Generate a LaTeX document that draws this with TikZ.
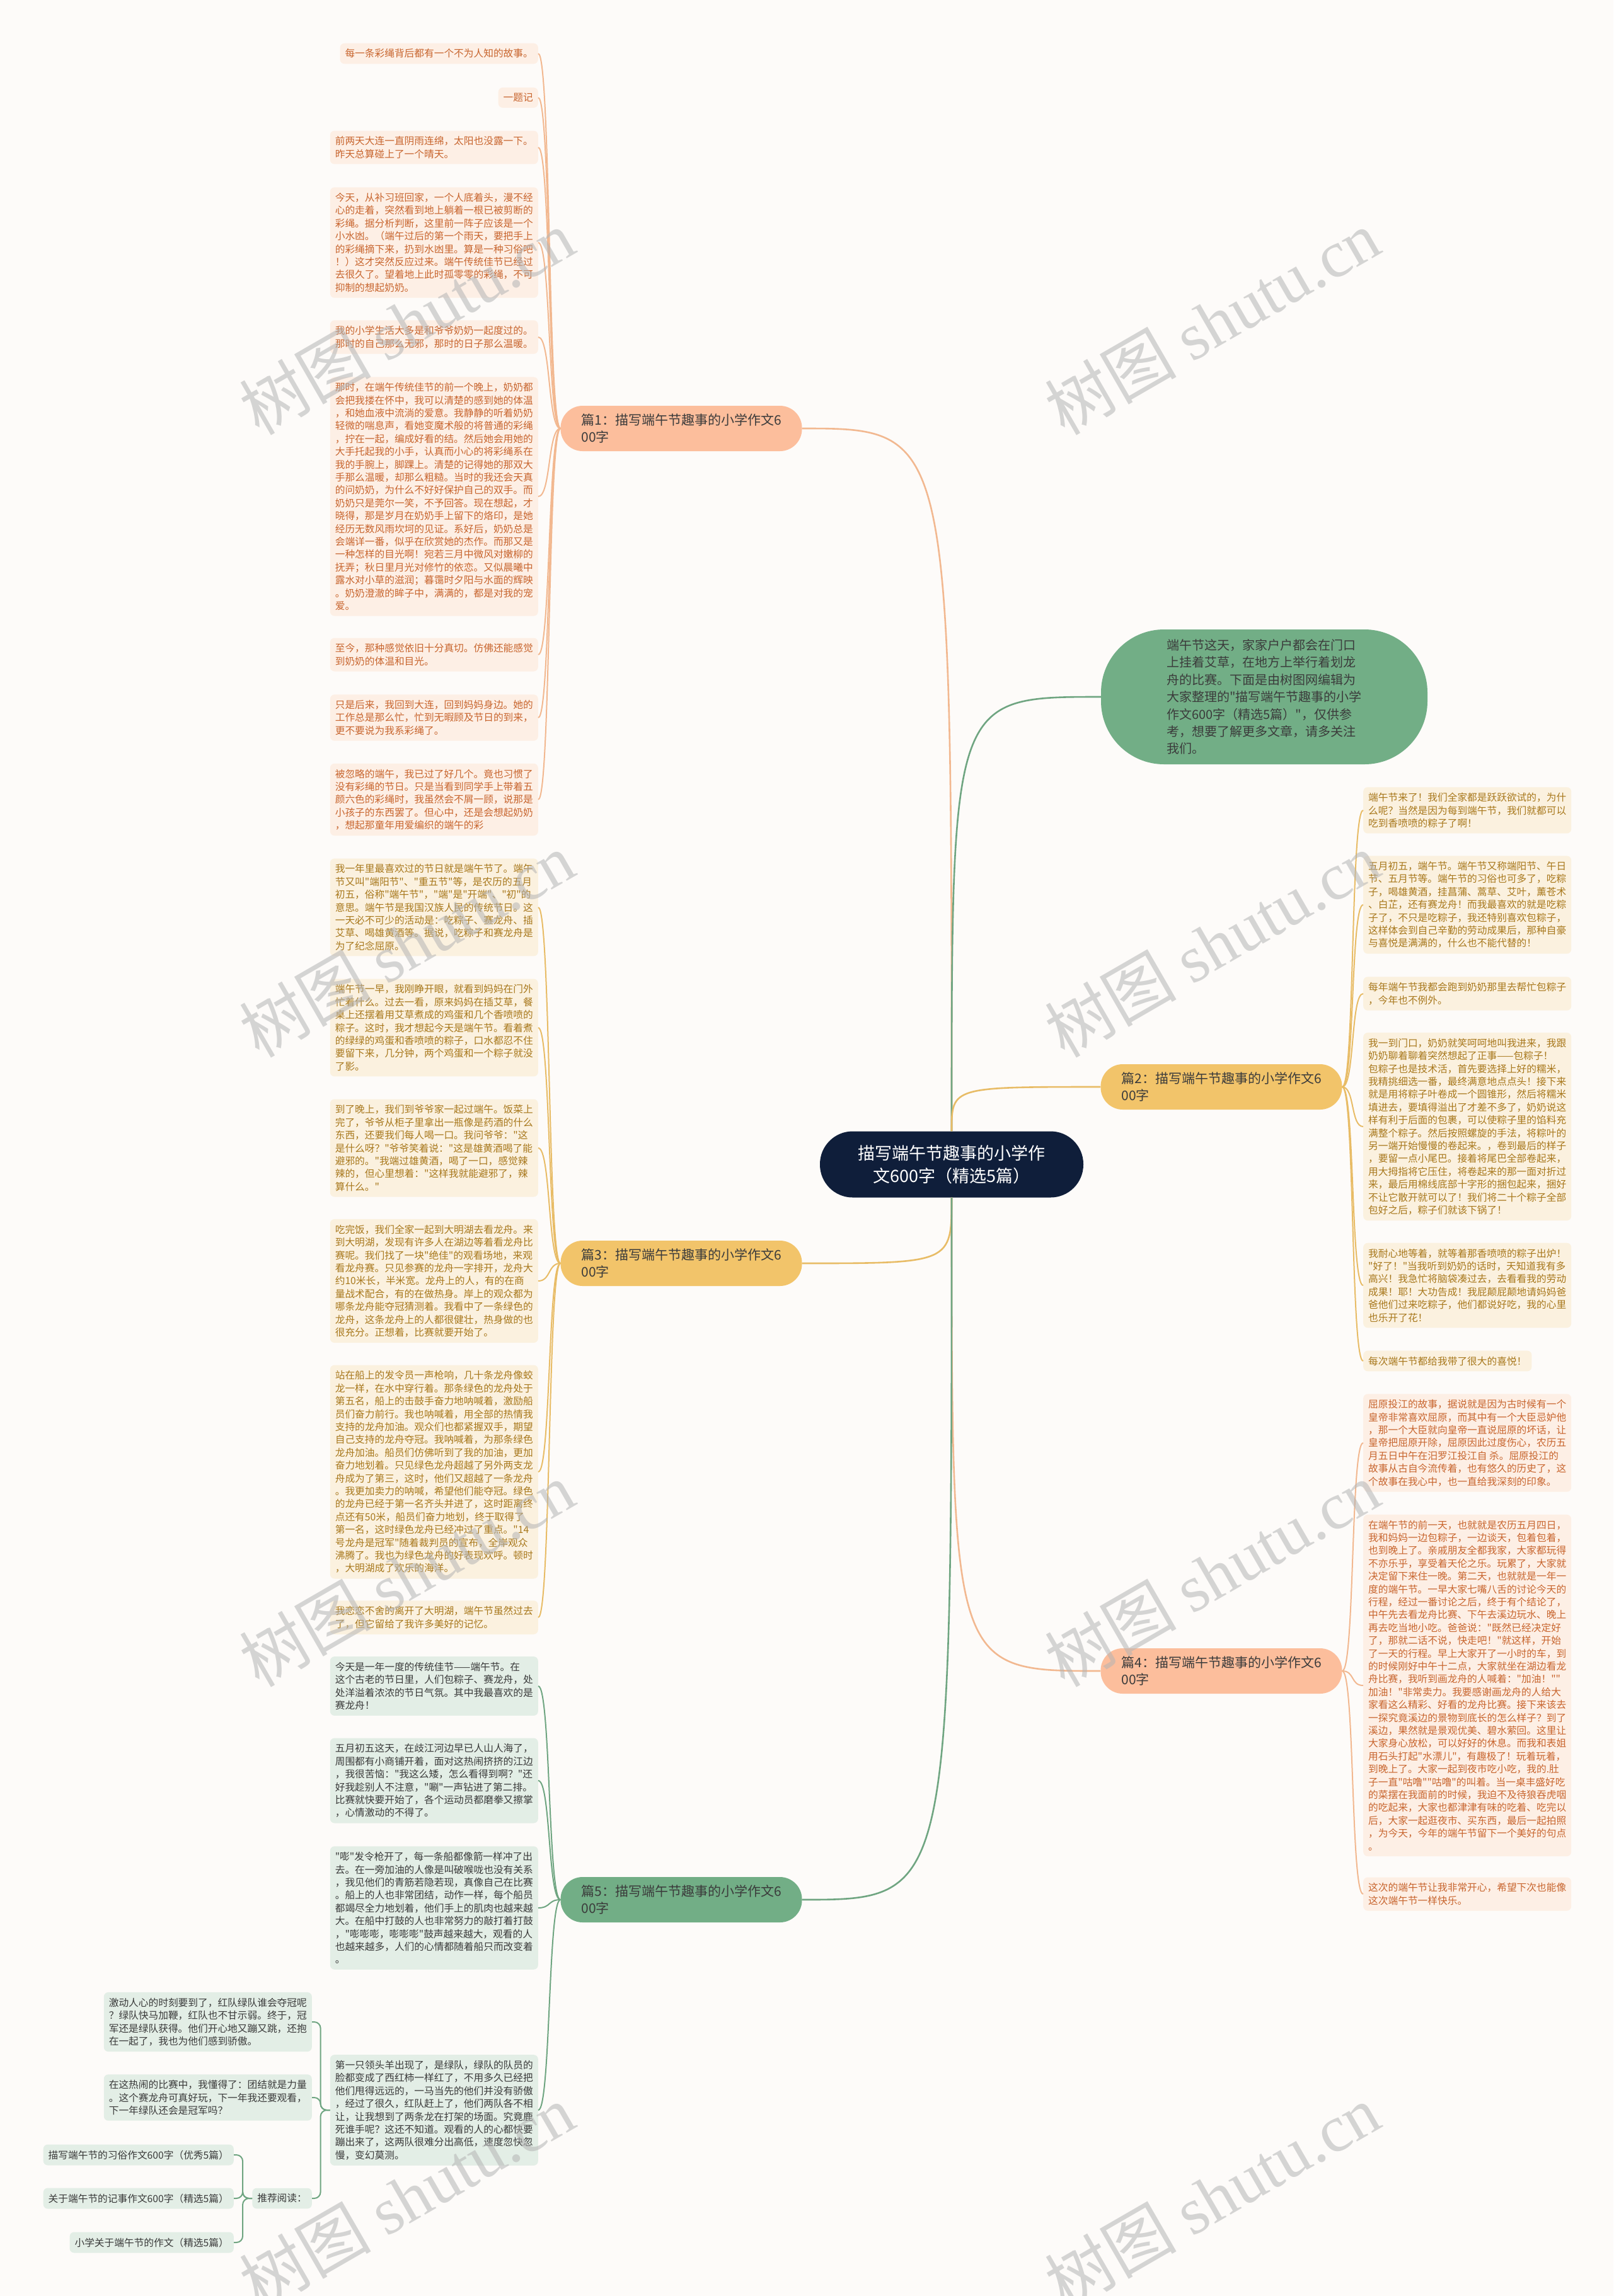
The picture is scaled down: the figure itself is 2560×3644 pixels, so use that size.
\documentclass[tikz,border=0pt]{standalone}
\usepackage{fontspec}
\setmainfont{Noto Sans CJK SC}[Ligatures=TeXOff]
\newfontfamily\wmserif{Liberation Serif}

\definecolor{cBg}{HTML}{FDFBF9}
\definecolor{cHub}{HTML}{0F1E3A}
\definecolor{cPeach}{HTML}{FCBE9C}
\definecolor{cPeachLine}{HTML}{F2B890}
\definecolor{cPeachFill}{HTML}{FDEFE5}
\definecolor{cPeachText}{HTML}{C8652E}
\definecolor{cGold}{HTML}{F2C46A}
\definecolor{cGoldLine}{HTML}{E8BC66}
\definecolor{cGoldFill}{HTML}{FBF1DF}
\definecolor{cGoldText}{HTML}{A8781C}
\definecolor{cGreen}{HTML}{72AE86}
\definecolor{cGreenLine}{HTML}{6FA581}
\definecolor{cGreenFill}{HTML}{E3EEE6}
\definecolor{cGreenText}{HTML}{3A3A3A}
\definecolor{cTagText}{HTML}{3B3B3B}
\definecolor{cMark}{HTML}{B4B4B4}

\newcommand{\leaffont}{\fontsize{15.7}{20.4}\selectfont}
\newcommand{\tagfont}{\fontsize{21}{27}\selectfont}

\begin{document}
\begin{tikzpicture}[x=1pt, y=-1pt,
	leaf/.style={rounded corners=7pt, inner xsep=8pt, inner ysep=9pt, align=left, font=\leaffont},
	peachbox/.style={leaf, fill=cPeachFill, text=cPeachText},
	goldbox/.style={leaf, fill=cGoldFill, text=cGoldText},
	greenbox/.style={leaf, fill=cGreenFill, text=cGreenText},
	tag/.style={rounded corners=35pt, minimum width=383pt, minimum height=72pt, inner sep=0pt, align=left, font=\tagfont, text=cTagText},
	peachline/.style={draw=cPeachLine, line width=2pt},
	goldline/.style={draw=cGoldLine, line width=2pt},
	greenline/.style={draw=cGreenLine, line width=2pt},
	elbow/.style={greenline, rounded corners=10pt},
	wmark/.style={rotate=30, text=cMark, opacity=0.55, font=\fontsize{105}{110}\selectfont}]
	\fill[cBg] (0,0) rectangle (2560,3644);
	\useasboundingbox (0,0) rectangle (2560,3644);

	\node[fill=cHub, text=white, rounded corners=52pt, minimum width=418pt, minimum height=105pt, align=center, font=\fontsize{27}{36}\selectfont] (hub) at (1510,1848) {描写端午节趣事的小学作\\文600字（精选5篇）};
	\node[fill=cGreen, text=cTagText, rounded corners=100pt, minimum width=518pt, minimum height=214pt, align=left, font=\fontsize{20}{27.4}\selectfont] (intro) at (2006,1106) {端午节这天，家家户户都会在门口\\上挂着艾草，在地方上举行着划龙\\舟的比赛。下面是由树图网编辑为\\大家整理的"描写端午节趣事的小学\\作文600字（精选5篇）"，仅供参\\考，想要了解更多文章，请多关注\\我们。};
	\node[tag, fill=cPeach] (t1) at (1081,680) {篇1：描写端午节趣事的小学作文6\\00字};
	\node[tag, fill=cGold] (t2) at (1938,1725) {篇2：描写端午节趣事的小学作文6\\00字};
	\node[tag, fill=cGold] (t3) at (1081,2005) {篇3：描写端午节趣事的小学作文6\\00字};
	\node[tag, fill=cPeach] (t4) at (1938,2652) {篇4：描写端午节趣事的小学作文6\\00字};
	\node[tag, fill=cGreen] (t5) at (1081,3015) {篇5：描写端午节趣事的小学作文6\\00字};

	\node[peachbox, anchor=east] (b11) at (854,85) {每一条彩绳背后都有一个不为人知的故事。};
	\node[peachbox, anchor=east] (b12) at (854,155) {一题记};
	\node[peachbox, anchor=east] (b13) at (854,234) {前两天大连一直阴雨连绵，太阳也没露一下。\\昨天总算碰上了一个晴天。};
	\node[peachbox, anchor=east] (b14) at (854,385) {今天，从补习班回家，一个人底着头，漫不经\\心的走着，突然看到地上躺着一根已被剪断的\\彩绳。据分析判断，这里前一阵子应该是一个\\小水凼。（端午过后的第一个雨天，要把手上\\的彩绳摘下来，扔到水凼里。算是一种习俗吧\\！）这才突然反应过来。端午传统佳节已经过\\去很久了。望着地上此时孤零零的彩绳，不可\\抑制的想起奶奶。};
	\node[peachbox, anchor=east] (b15) at (854,535) {我的小学生活大多是和爷爷奶奶一起度过的。\\那时的自己那么无邪，那时的日子那么温暖。};
	\node[peachbox, anchor=east] (b16) at (854,788) {那时，在端午传统佳节的前一个晚上，奶奶都\\会把我搂在怀中，我可以清楚的感到她的体温\\，和她血液中流淌的爱意。我静静的听着奶奶\\轻微的喘息声，看她变魔术般的将普通的彩绳\\，拧在一起，编成好看的结。然后她会用她的\\大手托起我的小手，认真而小心的将彩绳系在\\我的手腕上，脚踝上。清楚的记得她的那双大\\手那么温暖，却那么粗糙。当时的我还会天真\\的问奶奶，为什么不好好保护自己的双手。而\\奶奶只是莞尔一笑，不予回答。现在想起，才\\晓得，那是岁月在奶奶手上留下的烙印，是她\\经历无数风雨坎坷的见证。系好后，奶奶总是\\会端详一番，似乎在欣赏她的杰作。而那又是\\一种怎样的目光啊！宛若三月中微风对嫩柳的\\抚弄；秋日里月光对修竹的依恋。又似晨曦中\\露水对小草的滋润；暮霭时夕阳与水面的辉映\\。奶奶澄澈的眸子中，满满的，都是对我的宠\\爱。};
	\node[peachbox, anchor=east] (b17) at (854,1039) {至今，那种感觉依旧十分真切。仿佛还能感觉\\到奶奶的体温和目光。};
	\node[peachbox, anchor=east] (b18) at (854,1139) {只是后来，我回到大连，回到妈妈身边。她的\\工作总是那么忙，忙到无暇顾及节日的到来，\\更不要说为我系彩绳了。};
	\node[peachbox, anchor=east] (b19) at (854,1269) {被忽略的端午，我已过了好几个。竟也习惯了\\没有彩绳的节日。只是当看到同学手上带着五\\颜六色的彩绳时，我虽然会不屑一顾，说那是\\小孩子的东西罢了。但心中，还是会想起奶奶\\，想起那童年用爱编织的端午的彩};

	\node[goldbox, anchor=east] (b31) at (854,1440) {我一年里最喜欢过的节日就是端午节了。端午\\节又叫"端阳节"、"重五节"等，是农历的五月\\初五，俗称"端午节"，"端"是"开端"、"初"的\\意思。端午节是我国汉族人民的传统节日。这\\一天必不可少的活动是：吃粽子、赛龙舟、插\\艾草、喝雄黄酒等。据说，吃粽子和赛龙舟是\\为了纪念屈原。};
	\node[goldbox, anchor=east] (b32) at (854,1631) {端午节一早，我刚睁开眼，就看到妈妈在门外\\忙着什么。过去一看，原来妈妈在插艾草，餐\\桌上还摆着用艾草煮成的鸡蛋和几个香喷喷的\\粽子。这时，我才想起今天是端午节。看着煮\\的绿绿的鸡蛋和香喷喷的粽子，口水都忍不住\\要留下来，几分钟，两个鸡蛋和一个粽子就没\\了影。};
	\node[goldbox, anchor=east] (b33) at (854,1822) {到了晚上，我们到爷爷家一起过端午。饭菜上\\完了，爷爷从柜子里拿出一瓶像是药酒的什么\\东西，还要我们每人喝一口。我问爷爷："这\\是什么呀？"爷爷笑着说："这是雄黄酒喝了能\\避邪的。"我端过雄黄酒，喝了一口，感觉辣\\辣的，但心里想着："这样我就能避邪了，辣\\算什么。"};
	\node[goldbox, anchor=east] (b34) at (854,2033) {吃完饭，我们全家一起到大明湖去看龙舟。来\\到大明湖，发现有许多人在湖边等着看龙舟比\\赛呢。我们找了一块"绝佳"的观看场地，来观\\看龙舟赛。只见参赛的龙舟一字排开，龙舟大\\约10米长，半米宽。龙舟上的人，有的在商\\量战术配合，有的在做热身。岸上的观众都为\\哪条龙舟能夺冠猜测着。我看中了一条绿色的\\龙舟，这条龙舟上的人都很健壮，热身做的也\\很充分。正想着，比赛就要开始了。};
	\node[goldbox, anchor=east] (b35) at (854,2336) {站在船上的发令员一声枪响，几十条龙舟像蛟\\龙一样，在水中穿行着。那条绿色的龙舟处于\\第五名，船上的击鼓手奋力地呐喊着，激励船\\员们奋力前行。我也呐喊着，用全部的热情我\\支持的龙舟加油。观众们也都紧握双手，期望\\自己支持的龙舟夺冠。我呐喊着，为那条绿色\\龙舟加油。船员们仿佛听到了我的加油，更加\\奋力地划着。只见绿色龙舟超越了另外两支龙\\舟成为了第三，这时，他们又超越了一条龙舟\\。我更加卖力的呐喊，希望他们能夺冠。绿色\\的龙舟已经于第一名齐头并进了，这时距离终\\点还有50米，船员们奋力地划，终于取得了\\第一名，这时绿色龙舟已经冲过了重点。"14\\号龙舟是冠军"随着裁判员的宣布，全岸观众\\沸腾了。我也为绿色龙舟的好表现欢呼。顿时\\，大明湖成了欢乐的海洋。};
	\node[goldbox, anchor=east] (b36) at (854,2567) {我恋恋不舍的离开了大明湖，端午节虽然过去\\了，但它留给了我许多美好的记忆。};

	\node[greenbox, anchor=east] (b51) at (854,2676) {今天是一年一度的传统佳节——端午节。在\\这个古老的节日里，人们包粽子、赛龙舟，处\\处洋溢着浓浓的节日气氛。其中我最喜欢的是\\赛龙舟！};
	\node[greenbox, anchor=east] (b52) at (854,2826) {五月初五这天，在歧江河边早已人山人海了，\\周围都有小商铺开着，面对这热闹挤挤的江边\\，我很苦恼："我这么矮，怎么看得到啊？"还\\好我趁别人不注意，"唰"一声钻进了第二排。\\比赛就快要开始了，各个运动员都磨拳又擦掌\\，心情激动的不得了。};
	\node[greenbox, anchor=east] (b53) at (854,3028) {"嘭"发令枪开了，每一条船都像箭一样冲了出\\去。在一旁加油的人像是叫破喉咙也没有关系\\，我见他们的青筋若隐若现，真像自己在比赛\\。船上的人也非常团结，动作一样，每个船员\\都竭尽全力地划着，他们手上的肌肉也越来越\\大。在船中打鼓的人也非常努力的敲打着打鼓\\，"嘭嘭嘭，嘭嘭嘭"鼓声越来越大，观看的人\\也越来越多，人们的心情都随着船只而改变着\\。};
	\node[greenbox, anchor=east] (b54) at (854,3349) {第一只领头羊出现了，是绿队，绿队的队员的\\脸都变成了西红柿一样红了，不用多久已经把\\他们甩得远远的，一马当先的他们并没有骄傲\\，经过了很久，红队赶上了，他们两队各不相\\让，让我想到了两条龙在打架的场面。究竟鹿\\死谁手呢？这还不知道。观看的人的心都快要\\蹦出来了，这两队很难分出高低，速度忽快忽\\慢，变幻莫测。};
	\node[greenbox, anchor=east] (c1) at (495,3209) {激动人心的时刻要到了，红队绿队谁会夺冠呢\\？绿队快马加鞭，红队也不甘示弱。终于，冠\\军还是绿队获得。他们开心地又蹦又跳，还抱\\在一起了，我也为他们感到骄傲。};
	\node[greenbox, anchor=east] (c2) at (495,3329) {在这热闹的比赛中，我懂得了：团结就是力量\\。这个赛龙舟可真好玩，下一年我还要观看，\\下一年绿队还会是冠军吗？};
	\node[greenbox, anchor=east] (rec) at (495,3489) {推荐阅读：};
	\node[greenbox, anchor=east] (r1) at (371,3420) {描写端午节的习俗作文600字（优秀5篇）};
	\node[greenbox, anchor=east] (r2) at (371,3489) {关于端午节的记事作文600字（精选5篇）};
	\node[greenbox, anchor=east] (r3) at (371,3559) {小学关于端午节的作文（精选5篇）};

	\node[goldbox, anchor=west] (b21) at (2163,1286) {端午节来了！我们全家都是跃跃欲试的，为什\\么呢？当然是因为每到端午节，我们就都可以\\吃到香喷喷的粽子了啊！};
	\node[goldbox, anchor=west] (b22) at (2163,1436) {五月初五，端午节。端午节又称端阳节、午日\\节、五月节等。端午节的习俗也可多了，吃粽\\子，喝雄黄酒，挂菖蒲、蒿草、艾叶，薰苍术\\、白芷，还有赛龙舟！而我最喜欢的就是吃粽\\子了，不只是吃粽子，我还特别喜欢包粽子，\\这样体会到自己辛勤的劳动成果后，那种自豪\\与喜悦是满满的，什么也不能代替的！};
	\node[goldbox, anchor=west] (b23) at (2163,1577) {每年端午节我都会跑到奶奶那里去帮忙包粽子\\，今年也不例外。};
	\node[goldbox, anchor=west] (b24) at (2163,1788) {我一到门口，奶奶就笑呵呵地叫我进来，我跟\\奶奶聊着聊着突然想起了正事——包粽子！\\包粽子也是技术活，首先要选择上好的糯米，\\我精挑细选一番，最终满意地点点头！接下来\\就是用将粽子叶卷成一个圆锥形，然后将糯米\\填进去，要填得溢出了才差不多了，奶奶说这\\样有利于后面的包裹，可以使粽子里的馅料充\\满整个粽子。然后按照螺旋的手法，将粽叶的\\另一端开始慢慢的卷起来。，卷到最后的样子\\，要留一点小尾巴。接着将尾巴全部卷起来，\\用大拇指将它压住，将卷起来的那一面对折过\\来，最后用棉线底部十字形的捆包起来，捆好\\不让它散开就可以了！我们将二十个粽子全部\\包好之后，粽子们就该下锅了！};
	\node[goldbox, anchor=west] (b25) at (2163,2040) {我耐心地等着，就等着那香喷喷的粽子出炉！\\"好了！"当我听到奶奶的话时，天知道我有多\\高兴！我急忙将脑袋凑过去，去看看我的劳动\\成果！耶！大功告成！我屁颠屁颠地请妈妈爸\\爸他们过来吃粽子，他们都说好吃，我的心里\\也乐开了花！};
	\node[goldbox, anchor=west] (b26) at (2163,2160) {每次端午节都给我带了很大的喜悦！};

	\node[peachbox, anchor=west] (b41) at (2163,2290) {屈原投江的故事，据说就是因为古时候有一个\\皇帝非常喜欢屈原，而其中有一个大臣忌妒他\\，那一个大臣就向皇帝一直说屈原的坏话，让\\皇帝把屈原开除，屈原因此过度伤心，农历五\\月五日中午在汨罗江投江自 杀。屈原投江的\\故事从古自今流传着，也有悠久的历史了，这\\个故事在我心中，也一直给我深刻的印象。};
	\node[peachbox, anchor=west] (b42) at (2163,2675) {在端午节的前一天，也就就是农历五月四日，\\我和妈妈一边包粽子，一边谈天，包着包着，\\也到晚上了。亲戚朋友全都我家，大家都玩得\\不亦乐乎，享受着天伦之乐。玩累了，大家就\\决定留下来住一晚。第二天，也就就是一年一\\度的端午节。一早大家七嘴八舌的讨论今天的\\行程，经过一番讨论之后，终于有个结论了，\\中午先去看龙舟比赛、下午去溪边玩水、晚上\\再去吃当地小吃。爸爸说："既然已经决定好\\了，那就二话不说，快走吧！"就这样，开始\\了一天的行程。早上大家开了一小时的车，到\\的时候刚好中午十二点，大家就坐在湖边看龙\\舟比赛，我听到画龙舟的人喊着："加油！""\\加油！"非常卖力。我要感谢画龙舟的人给大\\家看这么精彩、好看的龙舟比赛。接下来该去\\一探究竟溪边的景物到底长的怎么样子？到了\\溪边，果然就是景观优美、碧水萦回。这里让\\大家身心放松，可以好好的休息。而我和表姐\\用石头打起"水漂儿"，有趣极了！玩着玩着，\\到晚上了。大家一起到夜市吃小吃，我的.肚\\子一直"咕噜""咕噜"的叫着。当一桌丰盛好吃\\的菜摆在我面前的时候，我迫不及待狼吞虎咽\\的吃起来，大家也都津津有味的吃着、吃完以\\后，大家一起逛夜市、买东西，最后一起拍照\\，为今天，今年的端午节留下一个美好的句点\\。};
	\node[peachbox, anchor=west] (b43) at (2163,3006) {这次的端午节让我非常开心，希望下次也能像\\这次端午节一样快乐。};

	\draw[peachline, line width=2.6pt] (hub.north) .. controls (hub.north |- t1.east) .. (t1.east);
	\draw[greenline, line width=2.6pt] (hub.north) .. controls (hub.north |- intro.west) .. (intro.west);
	\draw[goldline, line width=2.6pt] (hub.north) .. controls (hub.north |- t2.west) .. (t2.west);
	\draw[goldline, line width=2.6pt] (hub.south) .. controls (hub.south |- t3.east) .. (t3.east);
	\draw[peachline, line width=2.6pt] (hub.south) .. controls (hub.south |- t4.west) .. (t4.west);
	\draw[greenline, line width=2.6pt] (hub.south) .. controls (hub.south |- t5.east) .. (t5.east);

	\foreach \b in {b11,b12,b13,b14,b15,b16,b17,b18,b19}
		\draw[peachline] (t1.west) .. controls +(-20,0) and +(20,0) .. (\b.east);
	\foreach \b in {b31,b32,b33,b34,b35,b36}
		\draw[goldline] (t3.west) .. controls +(-20,0) and +(20,0) .. (\b.east);
	\foreach \b in {b51,b52,b53,b54}
		\draw[greenline] (t5.west) .. controls +(-20,0) and +(20,0) .. (\b.east);
	\foreach \b in {b21,b22,b23,b24,b25,b26}
		\draw[goldline] (t2.east) .. controls +(20,0) and +(-20,0) .. (\b.west);
	\foreach \b in {b41,b42,b43}
		\draw[peachline] (t4.east) .. controls +(20,0) and +(-20,0) .. (\b.west);
	\foreach \b in {c1,c2,rec}
		\draw[elbow] (b54.west) -- ++(-15,0) |- (\b.east);
	\foreach \b in {r1,r2,r3}
		\draw[elbow] (rec.west) -- ++(-15,0) |- (\b.east);

	\foreach \wx/\wy in {645/511,1923/511,645/1499,1923/1499,645/2498,1923/2498,645/3486,1923/3486}
		\node[wmark] (wm-\wx-\wy) at (\wx,\wy) {树图 {\wmserif shutu.cn}};
\end{tikzpicture}
\end{document}
